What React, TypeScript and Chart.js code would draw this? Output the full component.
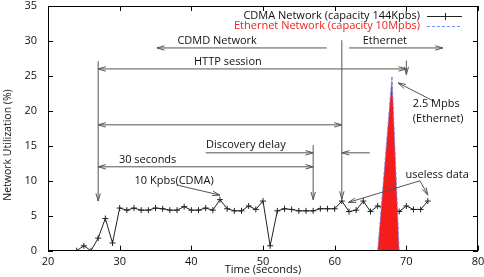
import React, { useEffect, useRef } from 'react';
import { Chart, registerables } from 'chart.js';
Chart.register(...registerables);

// ---- data ----
const cdmaTimes = [24, 25, 26, 27, 28, 29, 30, 31, 32, 33, 34, 35, 36, 37, 38, 39, 40, 41, 42, 43, 44, 45, 46, 47, 48, 49, 50, 51, 52, 53, 54, 55, 56, 57, 58, 59, 60, 61, 62, 63, 64, 65, 66, 67, 68, 69, 70, 71, 72, 73];
const cdmaValues = [0, 0.7, 0, 1.8, 4.6, 1.1, 6.1, 5.8, 6.1, 5.8, 5.8, 6.1, 6.0, 5.8, 5.8, 6.3, 5.8, 5.8, 6.1, 5.8, 7.3, 6.0, 5.7, 5.7, 6.4, 5.9, 7.1, 0.7, 5.7, 6.0, 5.9, 5.7, 5.7, 5.7, 6.0, 6.0, 6.0, 7.1, 5.6, 5.8, 7.1, 5.6, 6.4, 6.0, 6.0, 5.6, 6.4, 5.9, 5.9, 7.1];
const ethTimes = [62, 63, 64, 65, 66, 67, 68, 69, 70, 71, 72, 73];
const ethValues = [0, 0, 0, 0, 0, 12.5, 25, 0, 0, 0, 0, 0];
const xTicks = [20, 30, 40, 50, 60, 70, 80];
const yTicks = [0, 5, 10, 15, 20, 25, 30, 35];
const legendLabels = ['CDMA Network (capacity 144Kpbs)', 'Ethernet Network (capacity 10Mpbs)'];
const xTitle = 'Time (seconds)';
const yTitle = 'Network Utilization (%)';

// annotation arrows in data coordinates: [x1, y1, x2, y2, bothHeads]
const arrows: [number, number, number, number, boolean][] = [
  [58.9, 29, 35.2, 29, false],
  [61, 30.1, 61, 7.4, false],
  [62, 29, 75.1, 29, false],
  [27, 26, 70, 26, true],
  [27, 27.1, 27, 7.1, false],
  [70, 27.2, 70, 25.2, false],
  [27, 18, 61, 18, true],
  [42, 14, 57, 14, false],
  [27, 12, 57, 12, true],
  [57, 15.1, 57, 7.3, false],
  [64.9, 14, 61, 14, false],
  [37.95, 9.4, 44.0, 7.95, false],
  [71.9, 10.0, 61.9, 6.9, false],
  [71.9, 10.0, 73.0, 7.95, false],
  [74.0, 21.3, 68.85, 24.0, false],
];
// annotation labels: [text, x, y, align]
const notes: [string, number, number, CanvasTextAlign][] = [
  ['CDMD Network', 43.6, 30.0, 'center'],
  ['Ethernet', 67.0, 30.0, 'center'],
  ['HTTP session', 45.1, 27.0, 'center'],
  ['Discovery delay', 47.6, 15.1, 'center'],
  ['30 seconds', 33.9, 13.05, 'center'],
  ['10 Kpbs(CDMA)', 37.6, 9.95, 'center'],
  ['useless data', 74.3, 10.8, 'center'],
  ['2.5 Mpbs', 70.9, 21.05, 'left'],
  ['(Ethernet)', 70.9, 18.9, 'left'],
];

const FONT = '11px "Open Sans"';

function drawHead(ctx: CanvasRenderingContext2D, x1: number, y1: number, x2: number, y2: number) {
  const ang = Math.atan2(y2 - y1, x2 - x1);
  const L = 8, w = 0.28;
  ctx.beginPath();
  ctx.moveTo(x2 - L * Math.cos(ang - w), y2 - L * Math.sin(ang - w));
  ctx.lineTo(x2, y2);
  ctx.lineTo(x2 - L * Math.cos(ang + w), y2 - L * Math.sin(ang + w));
  ctx.stroke();
}

const overlay = {
  id: 'overlay',
  beforeDatasetsDraw(chart: any) {
    const { ctx, chartArea: a, scales } = chart;
    const x = scales.x, y = scales.y;
    ctx.save();
    ctx.strokeStyle = '#000';
    ctx.lineWidth = 1;
    ctx.beginPath();
    for (const t of xTicks) {
      const px = Math.round(x.getPixelForValue(t)) + 0.5;
      ctx.moveTo(px, a.bottom); ctx.lineTo(px, a.bottom - 5);
      ctx.moveTo(px, a.top); ctx.lineTo(px, a.top + 5);
    }
    for (const t of yTicks) {
      const py = Math.round(y.getPixelForValue(t)) + 0.5;
      ctx.moveTo(a.left, py); ctx.lineTo(a.left + 5, py);
      ctx.moveTo(a.right, py); ctx.lineTo(a.right - 5, py);
    }
    ctx.stroke();
    ctx.restore();
  },
  afterDatasetsDraw(chart: any) {
    const { ctx, chartArea: a, scales } = chart;
    const x = scales.x, y = scales.y;
    ctx.save();
    // border box
    ctx.strokeStyle = '#000';
    ctx.lineWidth = 1;
    ctx.strokeRect(Math.round(a.left) + 0.5, Math.round(a.top) + 0.5, Math.round(a.right - a.left) - 1, Math.round(a.bottom - a.top) - 1);
    // arrows
    ctx.strokeStyle = '#555';
    ctx.lineWidth = 1;
    for (const [x1, y1, x2, y2, both] of arrows) {
      const p1x = x.getPixelForValue(x1), p1y = y.getPixelForValue(y1);
      const p2x = x.getPixelForValue(x2), p2y = y.getPixelForValue(y2);
      ctx.beginPath();
      ctx.moveTo(p1x, p1y); ctx.lineTo(p2x, p2y);
      ctx.stroke();
      drawHead(ctx, p1x, p1y, p2x, p2y);
      if (both) drawHead(ctx, p2x, p2y, p1x, p1y);
    }
    // notes
    ctx.font = FONT;
    ctx.fillStyle = '#111';
    ctx.textBaseline = 'middle';
    for (const [t, nx, ny, al] of notes) {
      ctx.textAlign = al;
      ctx.fillText(t, x.getPixelForValue(nx), y.getPixelForValue(ny));
    }
    // legend
    const tx = a.right - 58;
    const s1 = a.right - 51, s2 = a.right - 16;
    const ly1 = a.top + 9.5, ly2 = a.top + 19.5;
    ctx.textAlign = 'right';
    ctx.fillStyle = '#111';
    ctx.fillText(legendLabels[0], tx, ly1);
    ctx.fillStyle = '#ee2222';
    ctx.fillText(legendLabels[1], tx, ly2);
    ctx.strokeStyle = '#222';
    ctx.beginPath();
    ctx.moveTo(s1, Math.round(ly1) + 0.5); ctx.lineTo(s2, Math.round(ly1) + 0.5);
    const mx = Math.round((s1 + s2) / 2) + 0.5;
    ctx.moveTo(mx, Math.round(ly1) - 3); ctx.lineTo(mx, Math.round(ly1) + 4);
    ctx.stroke();
    ctx.strokeStyle = '#6f8fff';
    ctx.setLineDash([3, 2]);
    ctx.beginPath();
    ctx.moveTo(s1, Math.round(ly2) + 0.5); ctx.lineTo(s2, Math.round(ly2) + 0.5);
    ctx.stroke();
    ctx.setLineDash([]);
    // axis titles
    ctx.fillStyle = '#111';
    ctx.textAlign = 'center';
    ctx.fillText(xTitle, 263, 270);
    ctx.font = '10.5px "Open Sans"';
    ctx.translate(8, 145);
    ctx.rotate(-Math.PI / 2);
    ctx.fillText(yTitle, 0, 0);
    ctx.restore();
  },
};

export default function App() {
  const ref = useRef<HTMLCanvasElement>(null);
  useEffect(() => {
    const chart = new Chart(ref.current as HTMLCanvasElement, {
      type: 'line',
      data: {
        datasets: [
          {
            label: legendLabels[1],
            data: ethTimes.map((t, i) => ({ x: t, y: ethValues[i] })),
            borderColor: '#6f8fff',
            borderWidth: 1,
            borderDash: [3, 2],
            backgroundColor: '#f51c1c',
            fill: 'origin',
            pointRadius: 0,
            tension: 0,
            order: 0,
          },
          {
            label: legendLabels[0],
            data: cdmaTimes.map((t, i) => ({ x: t, y: cdmaValues[i] })),
            borderColor: '#222',
            borderWidth: 1,
            pointStyle: 'cross',
            pointRadius: 3,
            pointBorderWidth: 1,
            pointBorderColor: '#222',
            fill: false,
            tension: 0,
            order: 1,
          },
        ],
      },
      options: {
        animation: false,
        responsive: true,
        maintainAspectRatio: false,
        layout: { padding: { top: 6, right: 6, left: 0, bottom: 0 } },
        plugins: { legend: { display: false }, tooltip: { enabled: false } },
        scales: {
          x: {
            type: 'linear',
            min: 20,
            max: 80,
            ticks: { stepSize: 10, color: '#111', font: { family: 'Open Sans', size: 11 }, padding: 5, maxRotation: 0, autoSkip: false },
            grid: { display: false, drawTicks: false },
            border: { display: false },
            afterFit: (s: any) => { s.height = 26.3; s.paddingLeft = 0; s.paddingRight = 0; },
          },
          y: {
            type: 'linear',
            min: 0,
            max: 35,
            ticks: { stepSize: 5, color: '#111', font: { family: 'Open Sans', size: 11 }, padding: 11 },
            grid: { display: false, drawTicks: false },
            border: { display: false },
            afterFit: (s: any) => { s.width = 48; s.paddingTop = 0; s.paddingBottom = 0; },
          },
        },
      },
      plugins: [overlay],
    });
    return () => chart.destroy();
  }, []);
  return (
    <div style={{ position: 'absolute', left: 0, top: 0, width: 484, height: 277 }}>
      <canvas ref={ref} />
    </div>
  );
}
